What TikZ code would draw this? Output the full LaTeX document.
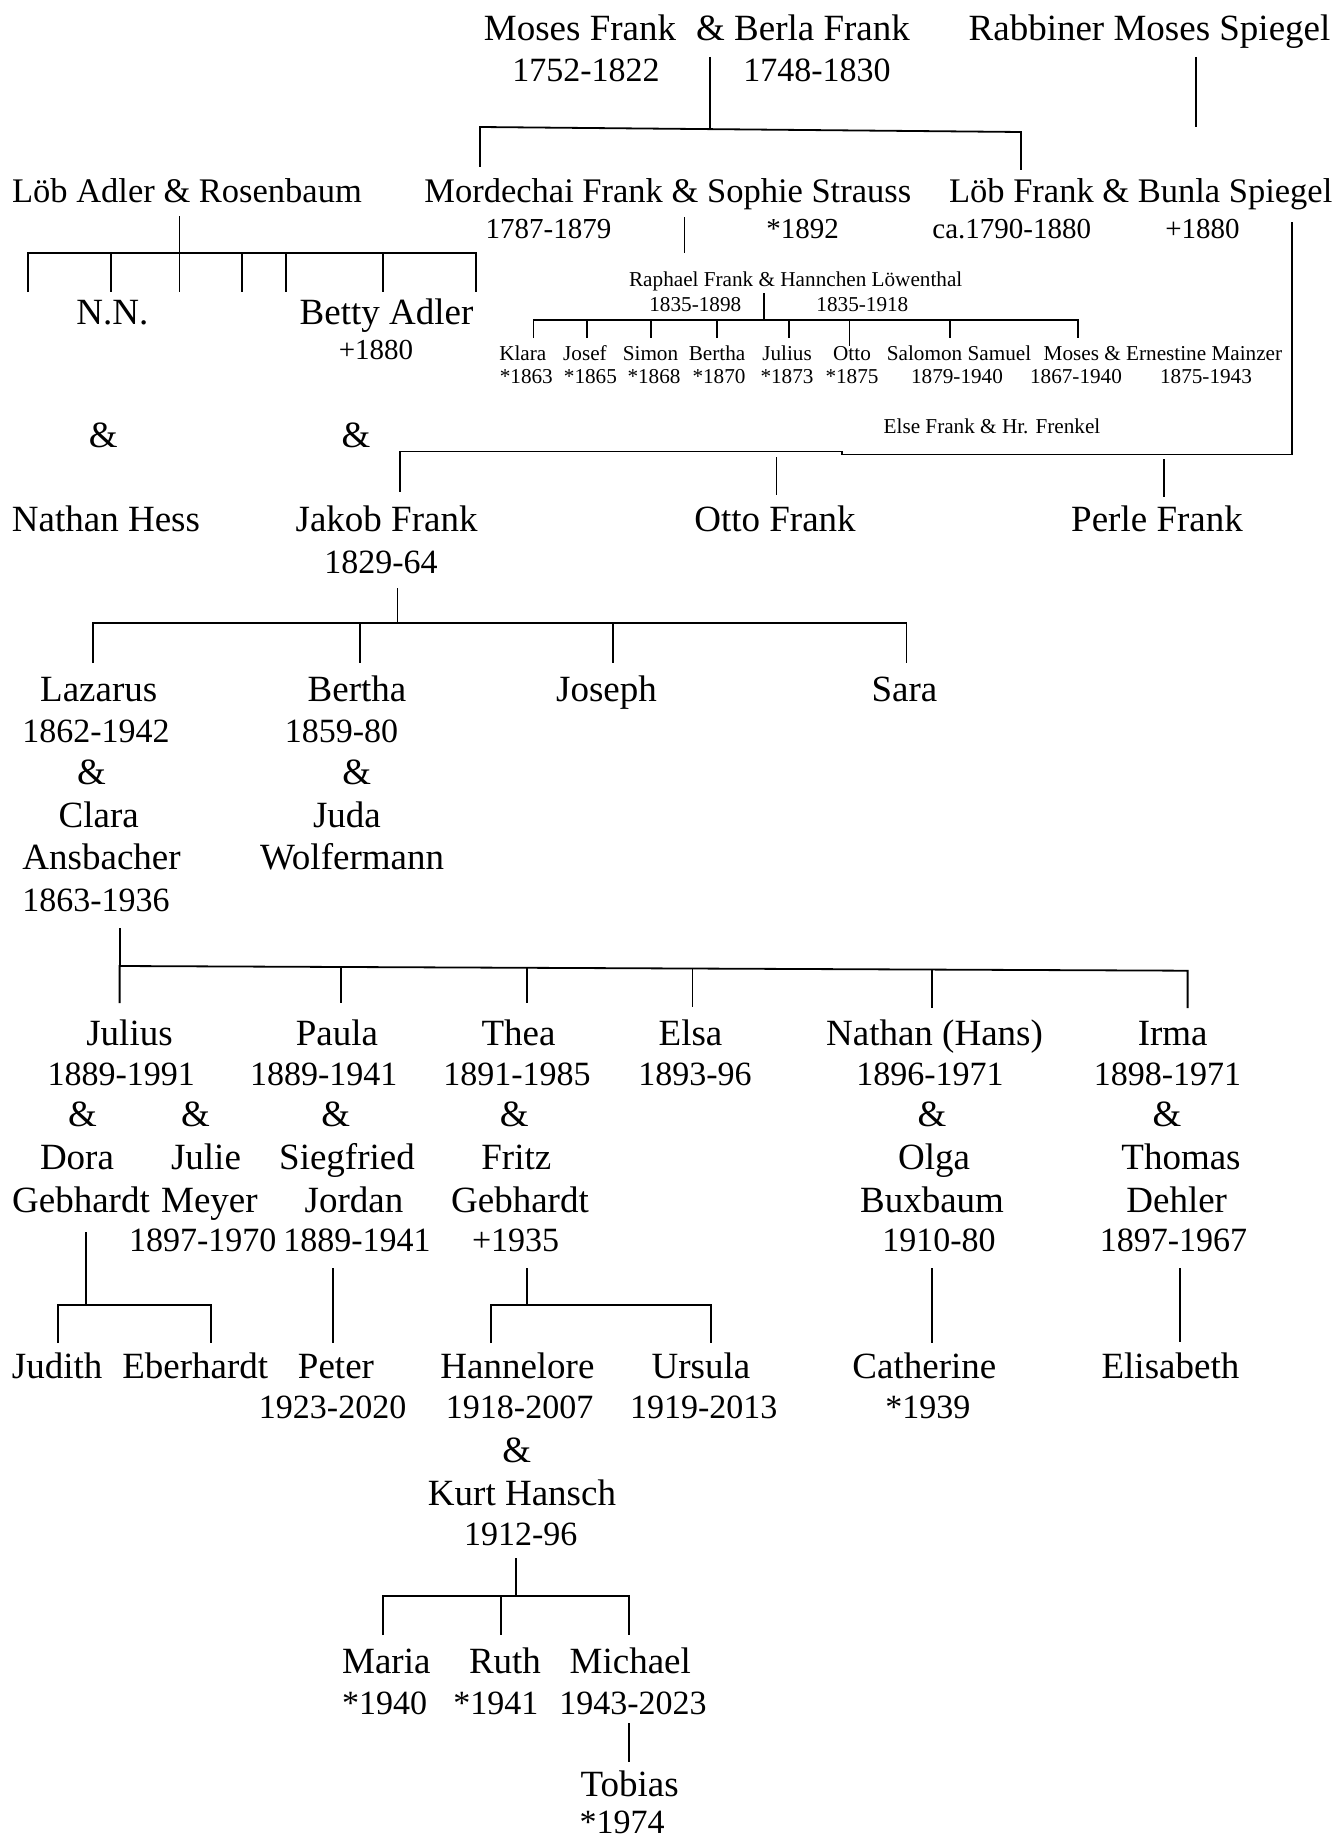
\documentclass[tikz,border=0pt]{standalone}
\usepackage{fontspec}
\setmainfont{Liberation Serif}
\begin{document}
\begin{tikzpicture}[x=1pt,y=-1pt,
  nm/.style={anchor=base,inner sep=0pt,font=\fontsize{37}{42}\selectfont},
  dt/.style={anchor=base,inner sep=0pt,font=\fontsize{34}{40}\selectfont},
  hd/.style={anchor=base,inner sep=0pt,font=\fontsize{34.5}{40}\selectfont},
  hdt/.style={anchor=base,inner sep=0pt,font=\fontsize{29}{34}\selectfont},
  sm/.style={anchor=base,inner sep=0pt,font=\fontsize{21.2}{25}\selectfont},
  ln/.style={line width=1.8pt,line join=miter}]
\useasboundingbox (0,0) rectangle (1338,1838);
\fill[white] (0,0) rectangle (1338,1838);

% ---------- generation 1
\node[nm] (mosesF) at (580,41) {Moses Frank};
\node[nm] (berla) at (803,41) {\& Berla Frank};
\node[nm] (rabbi) at (1149.5,41) {Rabbiner Moses Spiegel};
\node[dt] (mosesD) at (586,82) {1752-1822};
\node[dt] (berlaD) at (817,82) {1748-1830};

% ---------- generation 2
\node[hd] (loebA) at (187,203) {Löb Adler \& Rosenbaum};
\node[hd] (morde) at (667.8,203) {Mordechai Frank \& Sophie Strauss};
\node[hd] (loebF) at (1140.7,203) {Löb Frank \& Bunla Spiegel};
\node[hdt] (mordeD) at (548.5,238) {1787-1879};
\node[hdt] (sophieD) at (802.5,238) {*1892};
\node[hdt] (loebFD) at (1011.8,238) {ca.1790-1880};
\node[hdt] (bunlaD) at (1202.5,238) {+1880};

\node[nm] (nn) at (112.4,324) {N.N.};
\node[nm] (betty) at (386.5,324) {Betty Adler};
\node[hdt] (bettyD) at (376,359) {+1880};

% ---------- Raphael family (small)
\node[sm] (raphael) at (795.7,286) {Raphael Frank \& Hannchen Löwenthal};
\node[sm] (raphD) at (695.3,311) {1835-1898};
\node[sm] (hannD) at (862.4,311) {1835-1918};
\node[sm] (klara) at (522.8,360) {Klara};
\node[sm] (josef) at (585,360) {Josef};
\node[sm] (simon) at (650.5,360) {Simon};
\node[sm] (bertR) at (717,360) {Bertha};
\node[sm] (julR) at (787,360) {Julius};
\node[sm] (ottoR) at (852,360) {Otto};
\node[sm] (salomon) at (959,360) {Salomon Samuel};
\node[sm] (mosesE) at (1162.9,360) {Moses \& Ernestine Mainzer};
\node[sm] (klaraD) at (526.3,383.5) {*1863};
\node[sm] (josefD) at (590.4,383.5) {*1865};
\node[sm] (simonD) at (654,383.5) {*1868};
\node[sm] (bertRD) at (719,383.5) {*1870};
\node[sm] (julRD) at (787,383.5) {*1873};
\node[sm] (ottoRD) at (852,383.5) {*1875};
\node[sm] (salomonD) at (957,383.5) {1879-1940};
\node[sm] (mosesED) at (1076,383.5) {1867-1940};
\node[sm] (ernD) at (1206,383.5) {1875-1943};
\node[sm] (else) at (992,433) {Else Frank \& Hr. Frenkel};

% ---------- generation 3
\node[nm] (ampNN) at (103.3,447) {\&};
\node[nm] (ampBA) at (356,447) {\&};
\node[nm] (hess) at (106,531) {Nathan Hess};
\node[nm] (jakob) at (386.6,531) {Jakob Frank};
\node[nm] (otto) at (775,531) {Otto Frank};
\node[nm] (perle) at (1157,531) {Perle Frank};
\node[dt] (jakobD) at (381,573) {1829-64};

% ---------- generation 4
\node[nm] (lazarus) at (98.7,701) {Lazarus};
\node[dt] (lazarusD) at (96,742) {1862-1942};
\node[nm] (ampLa) at (91.5,784) {\&};
\node[nm] (clara) at (98.7,827) {Clara};
\node[nm] (ansb) at (101.6,869) {Ansbacher};
\node[dt] (claraD) at (96,911) {1863-1936};
\node[nm] (bertha) at (357,701) {Bertha};
\node[dt] (berthaD) at (341.5,742) {1859-80};
\node[nm] (ampBe) at (356.7,784) {\&};
\node[nm] (juda) at (347,827) {Juda};
\node[nm] (wolf) at (352,869) {Wolfermann};
\node[nm] (joseph) at (606.5,701) {Joseph};
\node[nm] (sara) at (904.5,701) {Sara};

% ---------- generation 5
\node[nm] (julius) at (129.5,1045) {Julius};
\node[dt] (juliusD) at (121.2,1085) {1889-1991};
\node[nm] (ampJ1) at (82.6,1126) {\&};
\node[nm] (ampJ2) at (195.5,1126) {\&};
\node[nm] (dora) at (77,1169.5) {Dora};
\node[nm] (julie) at (206,1169.5) {Julie};
\node[nm] (doraG) at (81,1212) {Gebhardt};
\node[nm] (julieM) at (209.4,1212) {Meyer};
\node[dt] (julieD) at (202.7,1251) {1897-1970};

\node[nm] (paula) at (337,1045) {Paula};
\node[dt] (paulaD) at (323.7,1085) {1889-1941};
\node[nm] (ampP) at (335.7,1126) {\&};
\node[nm] (sieg) at (347,1169.5) {Siegfried};
\node[nm] (jordan) at (354,1212) {Jordan};
\node[dt] (jordanD) at (357,1251) {1889-1941};

\node[nm] (thea) at (518.5,1045) {Thea};
\node[dt] (theaD) at (517,1085) {1891-1985};
\node[nm] (ampT) at (514.3,1126) {\&};
\node[nm] (fritz) at (516.3,1169.5) {Fritz};
\node[nm] (fritzG) at (520,1212) {Gebhardt};
\node[dt] (fritzD) at (515.6,1251) {+1935};

\node[nm] (elsa) at (690.5,1045) {Elsa};
\node[dt] (elsaD) at (695,1085) {1893-96};

\node[nm] (nathan) at (934.5,1045) {Nathan (Hans)};
\node[dt] (nathanD) at (930,1085) {1896-1971};
\node[nm] (ampN) at (932,1126) {\&};
\node[nm] (olga) at (934,1169.5) {Olga};
\node[nm] (buxb) at (932,1212) {Buxbaum};
\node[dt] (olgaD) at (939,1251) {1910-80};

\node[nm] (irma) at (1172.7,1045) {Irma};
\node[dt] (irmaD) at (1167.5,1085) {1898-1971};
\node[nm] (ampI) at (1167,1126) {\&};
\node[nm] (thomas) at (1181,1169.5) {Thomas};
\node[nm] (dehler) at (1176.7,1212) {Dehler};
\node[dt] (dehlerD) at (1173.5,1251) {1897-1967};

% ---------- generation 6
\node[nm] (judith) at (57.1,1378) {Judith};
\node[nm] (eber) at (195.3,1378) {Eberhardt};
\node[nm] (peter) at (336,1378) {Peter};
\node[dt] (peterD) at (332.6,1418) {1923-2020};
\node[nm] (hanne) at (517.4,1378) {Hannelore};
\node[dt] (hanneD) at (519.6,1418) {1918-2007};
\node[nm] (ampH) at (516.7,1462) {\&};
\node[nm] (kurt) at (522,1505) {Kurt Hansch};
\node[dt] (kurtD) at (520.8,1545.5) {1912-96};
\node[nm] (ursula) at (701,1378) {Ursula};
\node[dt] (ursulaD) at (703.7,1418) {1919-2013};
\node[nm] (cath) at (924.4,1378) {Catherine};
\node[dt] (cathD) at (927.8,1418) {*1939};
\node[nm] (elis) at (1170.4,1378) {Elisabeth};

% ---------- generation 7/8
\node[nm] (maria) at (386.3,1673.5) {Maria};
\node[dt] (mariaD) at (384.7,1714) {*1940};
\node[nm] (ruth) at (505,1673.5) {Ruth};
\node[dt] (ruthD) at (495.8,1714) {*1941};
\node[nm] (michael) at (630.3,1673.5) {Michael};
\node[dt] (michaelD) at (633,1714) {1943-2023};
\node[nm] (tobias) at (629.7,1796) {Tobias};
\node[dt] (tobiasD) at (622,1833) {*1974};

% ================= connectors
% Moses & Berla
\coordinate (mbTop) at (710,57);
\coordinate (mbBar) at (710,129.1);
\coordinate (mbL) at (480,127);
\coordinate (mbR) at (1021,132);
\coordinate (mbLd) at (480,167);
\coordinate (mbRd) at (1021,170);
\draw[ln] (mbTop) -- (mbBar);
\draw[ln] (mbLd) -- (mbL) -- (mbR) -- (mbRd);
% Rabbiner
\coordinate (rbTop) at (1196,57);
\coordinate (rbBot) at (1196,127);
\draw[ln] (rbTop) -- (rbBot);
% Loeb Adler
\coordinate (laTop) at (179.5,216);
\coordinate (laBar) at (179.5,253);
\coordinate (laL) at (27.7,253);
\coordinate (laR) at (476,253);
\draw[ln] (laTop) -- (laBar);
\draw[ln] (27.7,292) -- (laL) -- (laR) -- (476,292);
\foreach \x in {110.7,179.5,242,286,382.6}
  \draw[ln] (\x,253) -- (\x,292);
% Mordechai
\coordinate (moTop) at (684.5,217);
\coordinate (moBot) at (684.5,253);
\draw[ln] (moTop) -- (moBot);
% Raphael
\coordinate (raTop) at (763.8,293);
\coordinate (raBar) at (763.8,320);
\coordinate (raL) at (533.5,320);
\coordinate (raR) at (1077.6,320);
\draw[ln] (raTop) -- (raBar);
\draw[ln] (533.5,338) -- (raL) -- (raR) -- (1077.6,338);
\foreach \x in {586.6,650.6,716.7,789.2,949.6}
  \draw[ln] (\x,320) -- (\x,338);
\draw[ln] (849.4,320) -- (849.4,346);
% Loeb Frank & Bunla
\coordinate (lfTop) at (1292,222);
\coordinate (lfR) at (1292,454.5);
\coordinate (lfStepA) at (842,454.5);
\coordinate (lfStepB) at (842,451.5);
\coordinate (lfL) at (400,451.5);
\coordinate (lfLd) at (400,492);
\draw[ln] (lfTop) -- (lfR) -- (lfStepA) -- (lfStepB) -- (lfL) -- (lfLd);
\coordinate (otTop) at (776.5,457);
\coordinate (otBot) at (776.5,495);
\draw[ln] (otTop) -- (otBot);
\coordinate (peTop) at (1164,459);
\coordinate (peBot) at (1164,497);
\draw[ln] (peTop) -- (peBot);
% Jakob
\coordinate (jaTop) at (397.5,588);
\coordinate (jaBar) at (397.5,623);
\coordinate (jaL) at (93,623);
\coordinate (jaR) at (906.5,623);
\draw[ln] (jaTop) -- (jaBar);
\draw[ln] (93,663) -- (jaL) -- (jaR) -- (906.5,663);
\foreach \x in {360,613}
  \draw[ln] (\x,623) -- (\x,663);
% Lazarus
\coordinate (lzTop) at (119.6,928);
\coordinate (lzL) at (119.6,966);
\coordinate (lzR) at (1187.6,970.7);
\draw[ln] (lzTop) -- (lzL);
\draw[ln] (119.6,1003) -- (lzL) -- (lzR) -- (1187.6,1008);
\draw[ln] (341,967) -- (341,1003);
\draw[ln] (526.8,967.8) -- (526.8,1003);
\draw[ln] (692.5,968.5) -- (692.5,1007);
\draw[ln] (931.6,969.6) -- (931.6,1008);
% Julius
\coordinate (juTop) at (85.7,1232);
\coordinate (juBar) at (85.7,1305);
\coordinate (juL) at (58,1305);
\coordinate (juR) at (211.2,1305);
\draw[ln] (juTop) -- (juBar);
\draw[ln] (58,1343) -- (juL) -- (juR) -- (211.2,1343);
% Paula
\coordinate (paTop) at (332.6,1268);
\coordinate (paBot) at (332.6,1343);
\draw[ln] (paTop) -- (paBot);
% Thea
\coordinate (thTop) at (526.8,1268);
\coordinate (thBar) at (526.8,1305);
\coordinate (thL) at (491,1305);
\coordinate (thR) at (711.2,1305);
\draw[ln] (thTop) -- (thBar);
\draw[ln] (491,1343) -- (thL) -- (thR) -- (711.2,1343);
% Nathan
\coordinate (naTop) at (931.6,1268);
\coordinate (naBot) at (931.6,1343);
\draw[ln] (naTop) -- (naBot);
% Irma
\coordinate (irTop) at (1179.6,1268);
\coordinate (irBot) at (1179.6,1342);
\draw[ln] (irTop) -- (irBot);
% Hannelore & Kurt
\coordinate (hkTop) at (516,1558);
\coordinate (hkBar) at (516,1596);
\coordinate (hkL) at (382.7,1596);
\coordinate (hkR) at (629,1596);
\draw[ln] (hkTop) -- (hkBar);
\draw[ln] (382.7,1635) -- (hkL) -- (hkR) -- (629,1635);
\draw[ln] (501,1596) -- (501,1635);
% Michael
\coordinate (miTop) at (629.3,1723);
\coordinate (miBot) at (629.3,1762);
\draw[ln] (miTop) -- (miBot);
\end{tikzpicture}
\end{document}
